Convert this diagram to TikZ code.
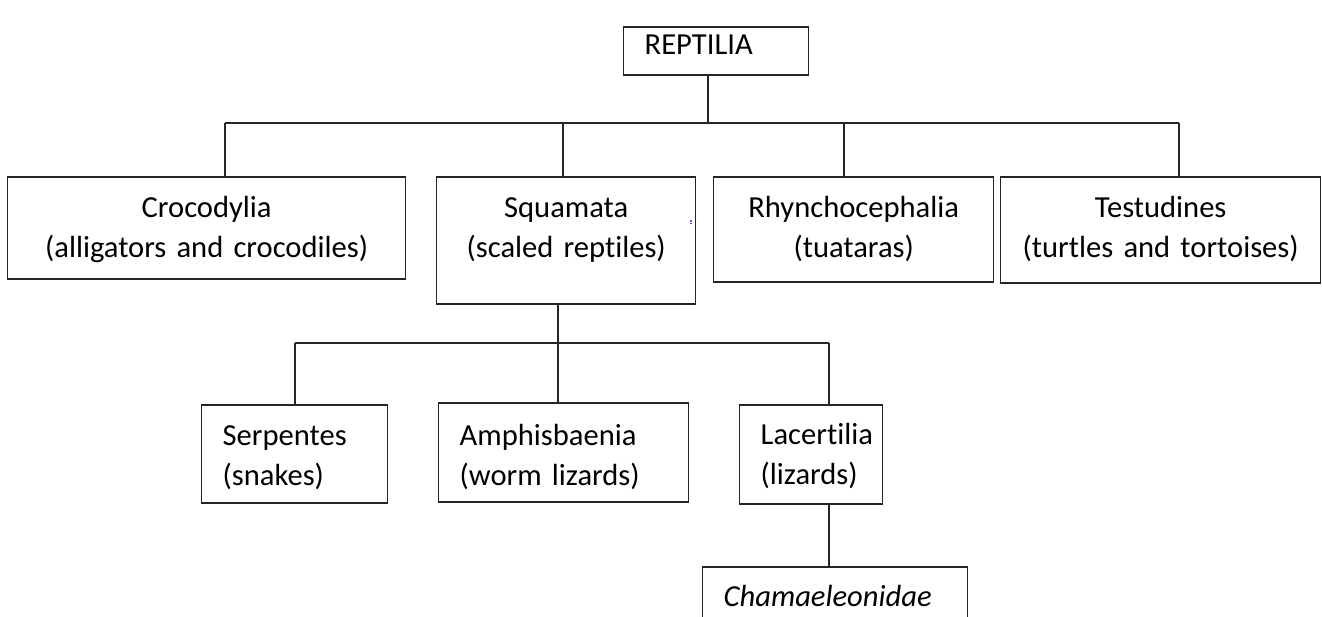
\documentclass[tikz,border=0pt]{standalone}
\usepackage{fontspec}
\setmainfont{Carlito}[Ligatures=NoCommon]
\usetikzlibrary{positioning}
\tikzset{
  taxon/.style={draw=black!85, line width=0.8pt, inner ysep=0pt, font=\fontsize{17.4}{22.8}\selectfont},
  midbox/.style={taxon, align=center, inner xsep=0pt},
  leftbox/.style={taxon, align=left, inner xsep=0.42cm},
  link/.style={draw=black!85, line width=0.8pt}
}
\begin{document}
\begin{tikzpicture}[x=0.02cm, y=-0.02cm]
    \clip (0,0) rectangle (1322,616);
    % Nodes
    \node[leftbox, text width=2.86cm, text height=0.54cm, text depth=0.42cm, anchor=base west] (rep) at (623,54) {REPTILIA};
    \node[midbox, text width=7.96cm, text height=0.8cm, text depth=1.24cm, anchor=base west] (croc) at (7,217) {Crocodylia\\(alligators and crocodiles)};
    \node[midbox, text width=5.18cm, text height=0.8cm, text depth=1.74cm, anchor=base west] (squa) at (436,217) {Squamata\\(scaled reptiles)};
    \node[midbox, text width=5.6cm, text height=0.8cm, text depth=1.3cm, anchor=base west] (rhyn) at (713,217) {Rhynchocephalia\\(tuataras)};
    \node[midbox, text width=6.4cm, text height=0.8cm, text depth=1.32cm, anchor=base west] (test) at (1000,217) {Testudines\\(turtles and tortoises)};
    \node[leftbox, text width=2.88cm, text height=0.8cm, text depth=1.16cm, anchor=base west] (serp) at (201,445) {Serpentes\\(snakes)};
    \node[leftbox, text width=4.16cm, text height=0.84cm, text depth=1.14cm, anchor=base west] (amph) at (438,445) {Amphisbaenia\\(worm lizards)};
    \node[leftbox, text width=2.02cm, text height=0.78cm, text depth=1.2cm, anchor=base west] (lace) at (739,444) {Lacertilia\\(lizards)};
    \node[leftbox, text width=4.46cm, text height=0.78cm, text depth=1.08cm, anchor=base west] (cham) at (702,606) {\textit{Chamaeleonidae}};

    % Junctions
    \coordinate (top-rep) at (708,123);
    \coordinate (top-croc) at (225,123);
    \coordinate (top-squa) at (563,123);
    \coordinate (top-rhyn) at (844,123);
    \coordinate (top-test) at (1179,123);
    \coordinate (low-squa) at (558,343);
    \coordinate (low-serp) at (295,343);
    \coordinate (low-lace) at (829,343);

    % Edges
    \draw[link] (top-rep |- rep.south) -- (top-rep);
    \draw[link] (top-croc) -- (top-test);
    \foreach \n in {croc,squa,rhyn,test}
        \draw[link] (top-\n) -- (top-\n |- \n.north);
    \draw[link] (low-squa |- squa.south) -- (low-squa |- amph.north);
    \draw[link] (low-serp) -- (low-lace);
    \draw[link] (low-serp) -- (low-serp |- serp.north);
    \draw[link] (low-lace) -- (low-lace |- lace.north);
    \draw[link] (low-lace |- lace.south) -- (low-lace |- cham.north);

    % stray mark
    \fill[blue!70] (690,220) rectangle (692,221.5);
    \fill[blue!70] (690,222.5) rectangle (692,224);
\end{tikzpicture}
\end{document}
